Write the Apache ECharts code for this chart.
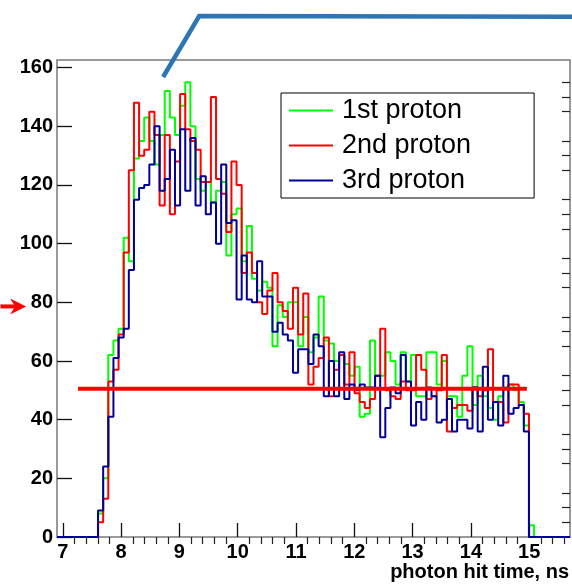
<!DOCTYPE html>
<html>
<head>
<meta charset="utf-8">
<script src="https://cdn.jsdelivr.net/npm/echarts@6/dist/echarts.min.js"></script>
<style>
html, body { margin: 0; padding: 0; background: #ffffff; }
#chart { width: 572px; height: 584px; }
</style>
</head>
<body>
<div id="chart"></div>
<script>
// Histogram binning: 100 equal bins over [6.9, 15.7] ns
const binLow = 6.9;
const binHigh = 15.7;

// Bin contents (counts per bin), bins 0..99
const firstProton = [
  0, 0, 0, 0, 0, 0, 0, 0,
  8, 20, 62, 67, 71, 102, 94, 129, 135, 143,
  135, 127, 137, 152, 143, 137, 147, 155, 140, 122,
  118, 121, 114, 118, 121, 96, 110, 112, 94, 106,
  88, 84, 87, 85, 65, 79, 75, 80, 80, 65,
  75, 63, 68, 82, 67, 66, 60, 62, 59, 55,
  58, 41, 42, 67, 55, 55, 63, 60, 52, 63,
  53, 62, 48, 48, 63, 63, 52, 60, 48, 48,
  41, 55, 65, 45, 55, 48, 44, 40, 48, 51,
  52, 50, 46, 38, 4,
  0, 0, 0, 0, 0, 0, 0
];
const secondProton = [
  0, 0, 0, 0, 0, 0, 0, 0,
  5, 13, 53, 57, 69, 97, 125, 148, 130, 132,
  145, 137, 113, 137, 110, 128, 151, 139, 135, 132,
  121, 121, 150, 122, 117, 104, 128, 120, 90, 97,
  90, 80, 76, 84, 90, 80, 77, 71, 85, 69,
  83, 52, 58, 61, 68, 48, 57, 62, 52, 63,
  49, 46, 44, 47, 55, 71, 50, 48, 47, 53,
  50, 50, 62, 57, 47, 48, 50, 62, 36, 44,
  45, 45, 43, 51, 48, 50, 64, 46, 46, 39,
  52, 52, 45, 42, 0,
  0, 0, 0, 0, 0, 0, 0
];
const thirdProton = [
  0, 0, 0, 0, 0, 0, 0, 0,
  9, 24, 41, 61, 68, 71, 91, 115, 119, 120,
  127, 140, 118, 122, 132, 113, 139, 118, 136, 113,
  123, 110, 114, 100, 127, 107, 108, 81, 96, 81,
  80, 94, 82, 82, 70, 73, 69, 67, 56, 64,
  64, 59, 69, 65, 48, 60, 48, 63, 47, 52,
  50, 52, 51, 51, 55, 34, 44, 51, 49, 62,
  53, 38, 46, 40, 51, 48, 39, 40, 47, 36,
  40, 40, 37, 51, 36, 58, 40, 46, 38, 55,
  42, 44, 45, 36, 0,
  0, 0, 0, 0, 0, 0, 0
];

const seriesNames = ['1st proton', '2nd proton', '3rd proton'];
const seriesColors = ['#00ff00', '#ff0000', '#000099'];

// Axis ranges and labelled ticks
const xRange = [6.9, 15.7];
const yRange = [0, 162.6];
const xTickLabels = [7, 8, 9, 10, 11, 12, 13, 14, 15];
const yTickLabels = [0, 20, 40, 60, 80, 100, 120, 140, 160];
const xTitle = 'photon hit time, ns';

// Overlaid annotations, in axis units
const bracketPath = [[8.72, 156.8], [9.34, 177.6], [15.8, 177.3]];
const levelLine = [[7.26, 50.5], [14.96, 50.5]];
const arrowLevel = 78.6;
const arrowSpan = [5.93, 6.37];

// minor tick positions between the labelled ticks
const xMinor = [];
for (let k = 36; k <= 78; k++) { if (k % 5 !== 0) xMinor.push(+(k * 0.2).toFixed(1)); }
const yMinor = [];
for (let v = 5; v <= 160; v += 5) { if (v % 20 !== 0) yMinor.push(v); }

function histPoints(values) {
  const w = (binHigh - binLow) / values.length;
  const pts = values.map((v, i) => [binLow + i * w, v]);
  pts.push([binHigh, values[values.length - 1]]);
  return pts;
}

const tickFont = { fontFamily: 'Liberation Sans', fontWeight: 'bold', fontSize: 20, color: '#000' };

const chart = echarts.init(document.getElementById('chart'), null, { renderer: 'canvas' });

chart.setOption({
  animation: false,
  backgroundColor: '#ffffff',
  grid: {
    left: 57, top: 60, width: 513, height: 477,
    show: true, borderColor: '#7a7a7a', borderWidth: 1.5, backgroundColor: 'transparent'
  },
  xAxis: [
    {
      type: 'value', min: xRange[0], max: xRange[1],
      axisLine: { show: false }, splitLine: { show: false },
      axisTick: { show: true, inside: true, length: 14, customValues: xTickLabels,
                  lineStyle: { color: '#111', width: 1.3 } },
      axisLabel: { show: true, customValues: xTickLabels, margin: 5, ...tickFont }
    },
    {
      type: 'value', min: xRange[0], max: xRange[1], gridIndex: 0,
      axisLine: { show: false }, splitLine: { show: false },
      axisTick: { show: true, inside: true, length: 7, customValues: xMinor,
                  lineStyle: { color: '#222', width: 1.2 } },
      axisLabel: { show: false }
    }
  ],
  yAxis: [
    {
      type: 'value', min: yRange[0], max: yRange[1],
      axisLine: { show: false }, splitLine: { show: false },
      axisTick: { show: true, inside: true, length: 15, customValues: yTickLabels,
                  lineStyle: { color: '#111', width: 1.3 } },
      axisLabel: { show: true, customValues: yTickLabels, margin: 4, ...tickFont }
    },
    {
      type: 'value', min: yRange[0], max: yRange[1], gridIndex: 0,
      axisLine: { show: false }, splitLine: { show: false },
      axisTick: { show: true, inside: true, length: 8, customValues: yMinor,
                  lineStyle: { color: '#222', width: 1.2 } },
      axisLabel: { show: false }
    }
  ],
  legend: {
    orient: 'vertical', left: 281, top: 93,
    padding: [4, 63, 4, 8], itemGap: 8,
    itemWidth: 44, itemHeight: 2, icon: 'rect',
    backgroundColor: '#ffffff', borderColor: '#000000', borderWidth: 1,
    textStyle: { fontFamily: 'Liberation Sans', fontSize: 27, color: '#000', padding: [0, 0, 0, 4] },
    data: seriesNames
  },
  series: [firstProton, secondProton, thirdProton].map((vals, idx) => ({
    name: seriesNames[idx],
    type: 'line', step: 'end', symbol: 'none', showSymbol: false,
    xAxisIndex: 0, yAxisIndex: 0,
    color: seriesColors[idx],
    lineStyle: { color: seriesColors[idx], width: 2 },
    data: histPoints(vals),
    z: 2 + idx
  }))
});

// annotation overlays, placed through the axis scales
const toPx = p => chart.convertToPixel({ xAxisIndex: 0, yAxisIndex: 0 }, p);
const tail = toPx([arrowSpan[0], arrowLevel]);
const tip = toPx([arrowSpan[1], arrowLevel]);

chart.setOption({
  graphic: [
    {
      type: 'polyline', z: 100,
      shape: { points: bracketPath.map(toPx) },
      style: { stroke: '#2e75b6', lineWidth: 4.5, fill: null, lineJoin: 'miter' }
    },
    {
      type: 'polyline', z: 100,
      shape: { points: levelLine.map(toPx) },
      style: { stroke: '#ff0000', lineWidth: 4, fill: null }
    },
    {
      type: 'line', z: 100,
      shape: { x1: tail[0], y1: tail[1], x2: tip[0] - 10, y2: tip[1] },
      style: { stroke: '#ff0000', lineWidth: 4 }
    },
    {
      type: 'polygon', z: 100,
      shape: { points: [[tip[0], tip[1]], [tip[0] - 16, tip[1] - 8], [tip[0] - 11, tip[1]], [tip[0] - 16, tip[1] + 8]] },
      style: { fill: '#ff0000' }
    },
    {
      type: 'text', z: 100, x: 569, y: 572,
      style: { text: xTitle, align: 'right', verticalAlign: 'middle',
               font: 'bold 20px "Liberation Sans"', fill: '#000' }
    }
  ]
});
</script>
</body>
</html>
